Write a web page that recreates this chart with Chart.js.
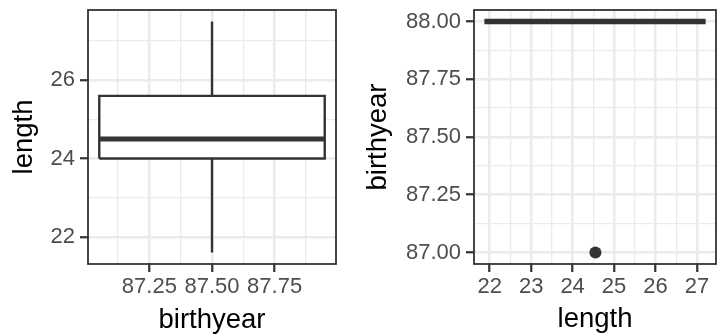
<!DOCTYPE html>
<html>
<head>
<meta charset="utf-8">
<script src="https://cdn.jsdelivr.net/npm/chart.js@4"></script>
<style>
  html, body { margin: 0; padding: 0; background: #fff; overflow: hidden; width: 720px; height: 335px; }
  canvas { position: absolute; top: 0; }
  #boxChart { left: 0; }
  #pointChart { left: 360px; }
</style>
</head>
<body>
<canvas id="boxChart" width="360" height="335"></canvas>
<canvas id="pointChart" width="362" height="335"></canvas>
<script>
// Left panel: boxplot of length, placed at birthyear 87.5
const boxEdges = [87.05, 87.5, 87.95];              // left edge, centre, right edge
const lengthStats = [21.6, 24.0, 24.5, 25.6, 27.5]; // lower whisker, Q1, median, Q3, upper whisker

// Right panel: birthyear against length
const spanLength = [21.87, 27.21];  // lengths at birthyear 88 (flat box)
const spanBirthyear = [88, 88];
const outlierLength = [24.55];
const outlierBirthyear = [87];

// Axis ranges and breaks
const leftXRange = [87.005, 87.995];
const leftYRange = [21.305, 27.795];
const rightXRange = [21.62, 27.46];
const rightYRange = [86.95, 88.05];

const leftXTicks = [87.25, 87.5, 87.75];
const leftXMinor = [87.125, 87.375, 87.625, 87.875];
const leftYTicks = [22, 24, 26];
const leftYMinor = [23, 25, 27];
const rightXTicks = [22, 23, 24, 25, 26, 27];
const rightXMinor = [22.5, 23.5, 24.5, 25.5, 26.5];
const rightYTicks = [87, 87.25, 87.5, 87.75, 88];
const rightYMinor = [87.125, 87.375, 87.625, 87.875];

const FONT = "'Liberation Sans', Arial, sans-serif";
const INK = '#333333';

function hasValue(list, v) {
    return list.some(x => Math.abs(x - v) < 1e-9);
}

/**
 * Draws the dark frame around the plotting area (like theme_bw).
 */
const panelBorder = {
    id: 'panelBorder',
    afterDraw(chart) {
        const { ctx, chartArea: a } = chart;
        ctx.save();
        ctx.strokeStyle = INK;
        ctx.lineWidth = 1.8;
        ctx.strokeRect(a.left, a.top, a.right - a.left, a.bottom - a.top);
        ctx.restore();
    }
};

/**
 * Builds one linear axis with major breaks (labelled) and minor breaks (grid only).
 */
function makeScale(range, major, minor, decimals, title, titlePad, isX, size) {
    const isMajor = ctx => ctx.tick && hasValue(major, ctx.tick.value);
    return {
        type: 'linear',
        min: range[0],
        max: range[1],
        afterBuildTicks: s => {
            s.ticks = major.concat(minor).sort((a, b) => a - b).map(v => ({ value: v }));
        },
        afterFit: s => {
            if (isX) s.height = size; else s.width = size;
            // the panel edges are fixed, labels may overhang them
            s.paddingTop = 0;
            s.paddingBottom = 0;
            s.paddingLeft = 0;
            s.paddingRight = 0;
        },
        border: { display: false },
        grid: {
            color: '#EBEBEB',
            lineWidth: ctx => isMajor(ctx) ? 2.5 : 1.3,
            tickLength: 8,
            tickColor: ctx => isMajor(ctx) ? INK : 'rgba(0,0,0,0)',
            tickWidth: 2.2
        },
        ticks: {
            autoSkip: false,
            maxRotation: 0,
            minRotation: 0,
            padding: isX ? 2 : 5,
            color: '#4D4D4D',
            font: { family: FONT, size: 22 },
            callback: v => hasValue(major, v) ? Number(v).toFixed(decimals) : ''
        },
        title: {
            display: true,
            text: title,
            color: '#000000',
            font: { family: FONT, size: 27.5, lineHeight: 1 },
            padding: titlePad
        }
    };
}

function lineSet(xs, ys, width) {
    return {
        data: xs.map((x, i) => ({ x: x, y: ys[i] })),
        showLine: true,
        borderColor: INK,
        borderWidth: width,
        borderJoinStyle: 'miter',
        pointRadius: 0,
        fill: false
    };
}

const baseOptions = {
    responsive: false,
    animation: false,
    events: [],
    plugins: { legend: { display: false }, tooltip: { enabled: false } }
};

function initializeBoxChart() {
    const [lo, q1, med, q3, hi] = lengthStats;
    const [left, mid, right] = boxEdges;

    const boxFill = {
        data: [{ x: left, y: q3 }, { x: right, y: q3 }],
        showLine: true,
        borderWidth: 0,
        pointRadius: 0,
        backgroundColor: '#ffffff',
        fill: { value: q1 }
    };

    new Chart(document.getElementById('boxChart'), {
        type: 'scatter',
        data: {
            datasets: [
                lineSet([left, right], [med, med], 5),
                lineSet([left, left, right, right, left], [q1, q3, q3, q1, q1], 2.4),
                lineSet([mid, mid], [q3, hi], 2.4),
                lineSet([mid, mid], [q1, lo], 2.4),
                boxFill
            ]
        },
        options: Object.assign({}, baseOptions, {
            layout: { padding: { top: 10, right: 24, left: 0, bottom: 0 } },
            scales: {
                x: makeScale(leftXRange, leftXTicks, leftXMinor, 2, 'birthyear', { top: 0, bottom: 1 }, true, 71),
                y: makeScale(leftYRange, leftYTicks, leftYMinor, 0, 'length', { top: 11, bottom: 0 }, false, 88)
            }
        }),
        plugins: [panelBorder]
    });
}

function initializePointChart() {
    new Chart(document.getElementById('pointChart'), {
        type: 'scatter',
        data: {
            datasets: [
                {
                    data: outlierLength.map((x, i) => ({ x: x, y: outlierBirthyear[i] })),
                    pointRadius: 6,
                    pointBorderWidth: 0,
                    backgroundColor: INK
                },
                lineSet(spanLength, spanBirthyear, 5.5)
            ]
        },
        options: Object.assign({}, baseOptions, {
            layout: { padding: { top: 10, right: 0, left: 0, bottom: 0 } },
            scales: {
                x: makeScale(rightXRange, rightXTicks, rightXMinor, 0, 'length', { top: 0, bottom: 2 }, true, 71),
                y: makeScale(rightYRange, rightYTicks, rightYMinor, 2, 'birthyear', { top: 5, bottom: 0 }, false, 114)
            }
        }),
        plugins: [panelBorder]
    });
}

document.addEventListener('DOMContentLoaded', () => {
    initializeBoxChart();
    initializePointChart();
});
</script>
</body>
</html>
